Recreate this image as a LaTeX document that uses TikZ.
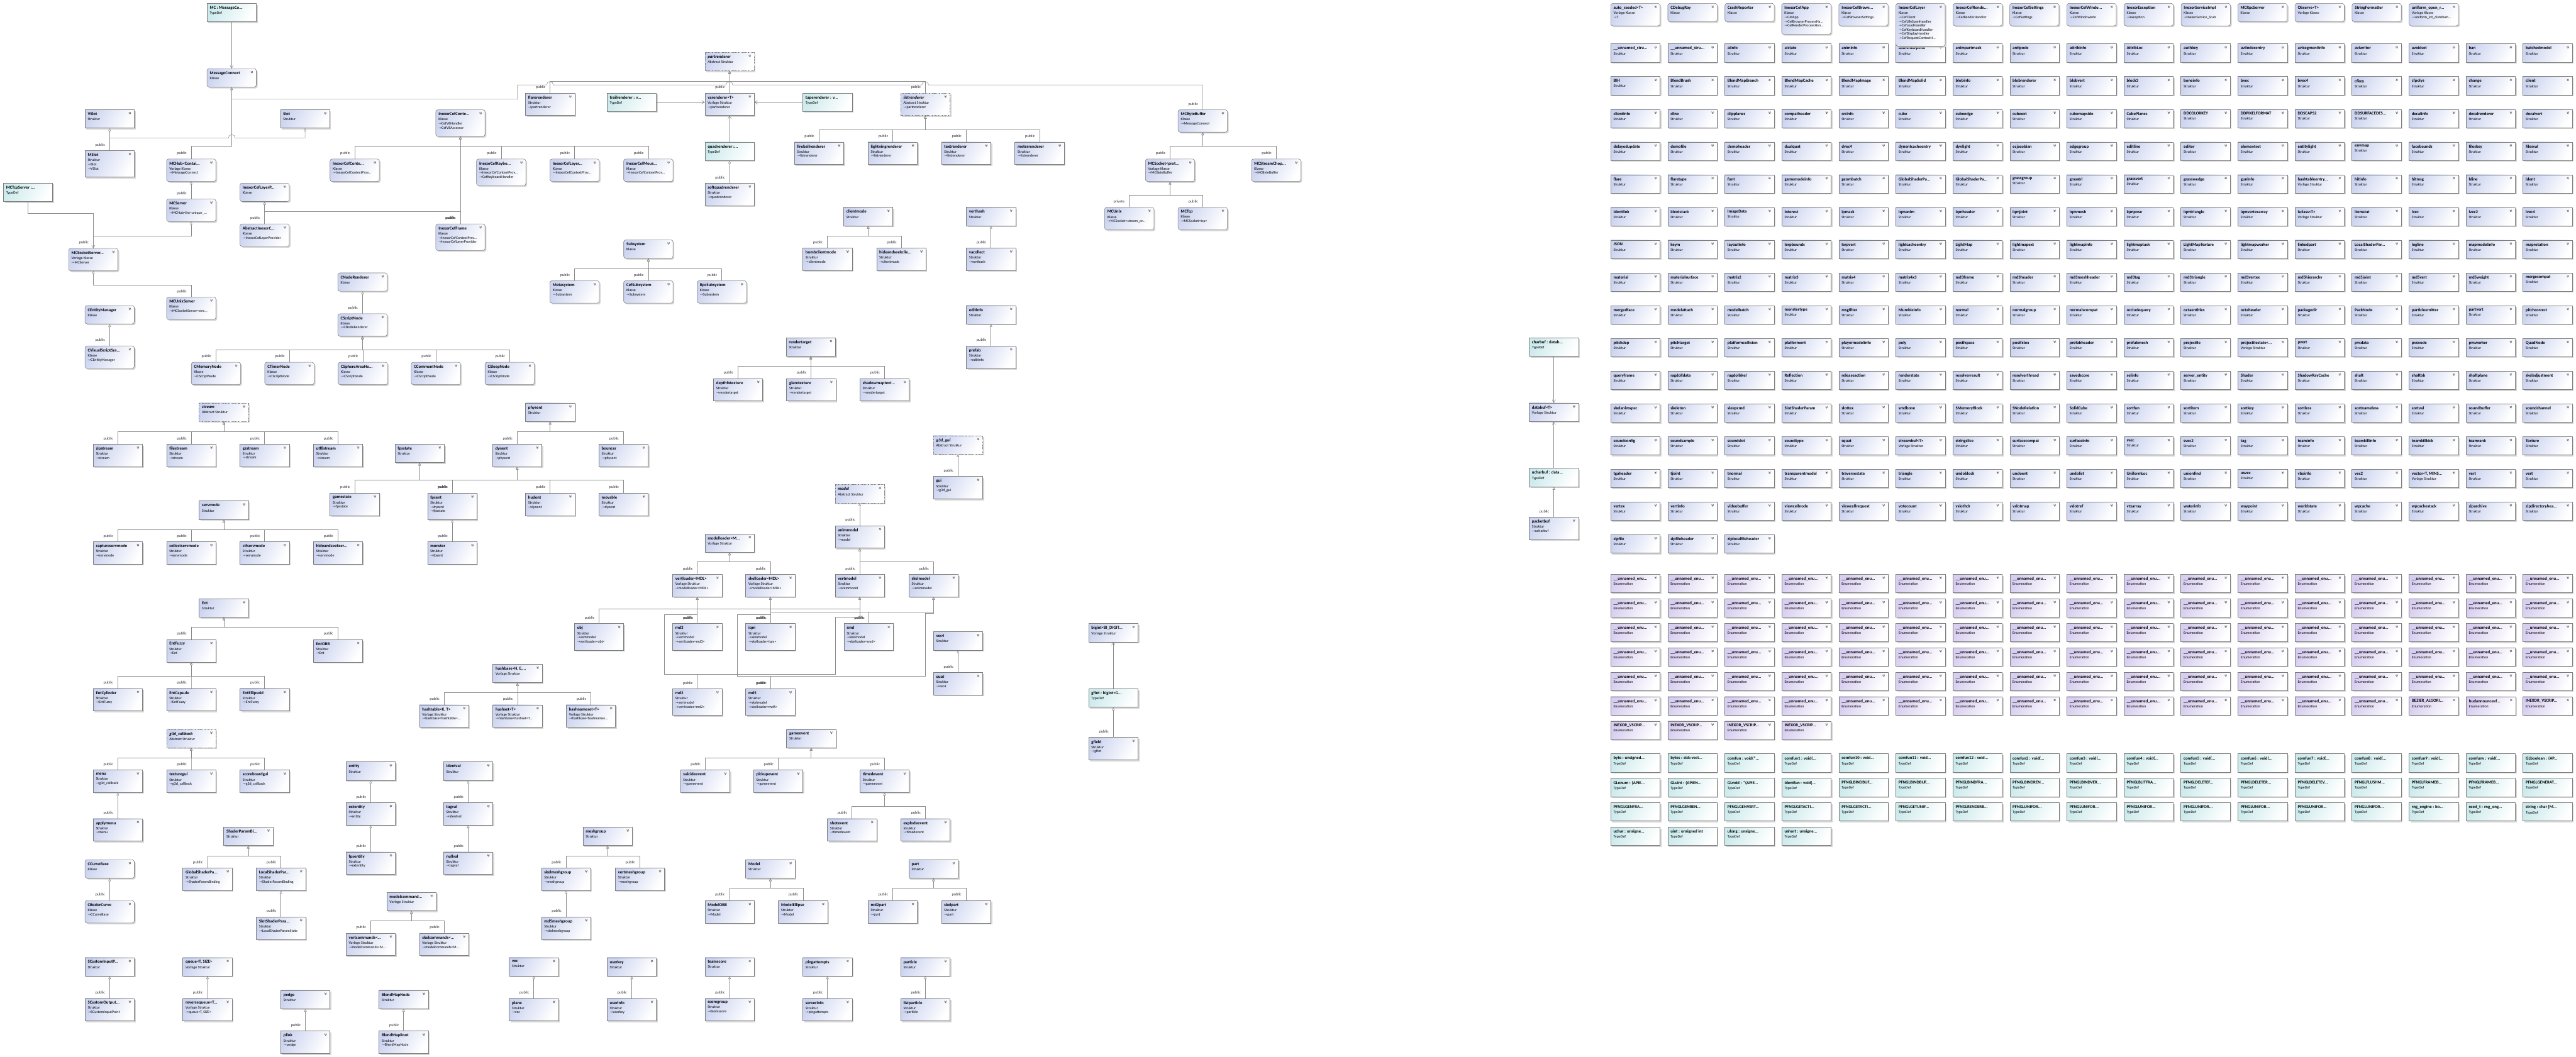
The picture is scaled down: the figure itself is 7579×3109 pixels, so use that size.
\documentclass[tikz,border=0pt]{standalone}
\usepackage{fontspec}
\setmainfont{Carlito}
\newfontfamily\symf{DejaVu Sans}
\usetikzlibrary{arrows.meta,shadows}

\definecolor{boxline}{RGB}{125,125,125}
\definecolor{strcol}{RGB}{204,212,240}
\definecolor{tdfcol}{RGB}{204,234,236}
\definecolor{enmcol}{RGB}{216,206,240}
\definecolor{linecol}{RGB}{140,140,140}
\definecolor{pubcol}{RGB}{45,40,50}
\definecolor{iconcol}{RGB}{70,70,70}

\newcommand\nmf{\fontsize{3.6}{4}\selectfont\bfseries}
\newcommand\ib[1]{\\{\symf\color{iconcol}→}#1}
\newcommand\dd{...}
% box + its text
\newcommand\bx[6][str]{%
  \node[#1] (#2) at (#3) {};
  \node[txt] (#2-t) at (#2.north west) {{\nmf #4}\\[0.8pt]#5#6};}
% template structs in the grid
\expandafter\def\csname vk5-12\endcsname{}
\expandafter\def\csname vk6-12\endcsname{}
\expandafter\def\csname vk10-11\endcsname{}
\expandafter\def\csname vk13-5\endcsname{}
\expandafter\def\csname vk14-14\endcsname{}

\tikzset{
  box/.style={draw=boxline, line width=0.3pt, anchor=north west, inner sep=0pt, outer sep=0pt,
    minimum width=14.5mm, minimum height=5.4mm,
    drop shadow={shadow xshift=0.4mm, shadow yshift=-0.4mm, fill=black!17, opacity=1}},
  chev/.style={path picture={\draw[draw=black!65, line width=0.25pt, solid, sharp corners]
      ([xshift=-1.6mm,yshift=-0.7mm]path picture bounding box.north east) -- ++(0.3mm,-0.3mm) -- ++(0.3mm,0.3mm)
      ([xshift=-1.6mm,yshift=-1.0mm]path picture bounding box.north east) -- ++(0.3mm,-0.3mm) -- ++(0.3mm,0.3mm);}},
  str/.style={box, chev, left color=strcol, right color=white, shading angle=60},
  kls/.style={str, rounded corners=0.6mm},
  abs/.style={str, dash pattern=on 0.7pt off 0.5pt},
  tdf/.style={box, left color=tdfcol, right color=white, shading angle=60},
  enm/.style={box, chev, left color=enmcol, right color=white, shading angle=60},
  h3/.style={minimum height=6.6mm},
  h4/.style={minimum height=7.8mm},
  h5/.style={minimum height=9.1mm},
  h8/.style={minimum height=12.6mm},
  txt/.style={anchor=north west, align=left, inner sep=0pt, xshift=0.75mm, yshift=-0.75mm,
    font=\fontsize{3.1}{3.5}\selectfont},
  inh/.style={draw=linecol, line width=0.3pt, -{Triangle[open, length=0.9mm, width=0.75mm]}},
  tdl/.style={draw=linecol, line width=0.3pt, -{Straight Barb[length=0.9mm, width=1mm]}},
  pub/.style={font=\fontsize{3.3}{3.6}\selectfont, text=pubcol, anchor=south east, inner sep=0pt,
    xshift=-1.3mm, yshift=1.1mm},
}

\begin{document}
\begin{tikzpicture}[x=0.1mm, y=-0.1mm]
\useasboundingbox (0,0) rectangle (7579,3109);

% ---------- class grid, right side ----------
\foreach \rowlist [count=\ri] in {%
{\_\_unnamed\_stru\dd,\_\_unnamed\_stru\dd,aiinfo,aistate,animinfo,animinterpinfo,animpartmask,antipode,attribinfo,AttribLoc,authkey,aviindexentry,avisegmentinfo,aviwriter,avoidset,ban,batchedmodel},%
{BIH,BlendBrush,BlendMapBranch,BlendMapCache,BlendMapImage,BlendMapSolid,blobinfo,blobrenderer,blobvert,block3,boneinfo,bvec,bvec4,cfkey,cfpolys,change,client},%
{clientinfo,cline,clipplanes,compatheader,crcinfo,cube,cubeedge,cubeext,cubemapside,CubePlanes,DDCOLORKEY,DDPIXELFORMAT,DDSCAPS2,DDSURFACEDES\dd,decalinfo,decalrenderer,decalvert},%
{delayedupdate,demofile,demoheader,dualquat,dvec4,dynentcacheentry,dynlight,ecjacobian,edgegroup,editline,editor,elementset,entitylight,envmap,facebounds,fileskey,filesval},%
{flare,flaretype,font,gamemodeinfo,geombatch,GlobalShaderPa\dd,GlobalShaderPa\dd,grassgroup,grasstri,grassvert,grasswedge,guninfo,hashtableentry\dd,hitinfo,hitmsg,hline,ident},%
{identlink,identstack,ImageData,interest,ipmask,iqmanim,iqmheader,iqmjoint,iqmmesh,iqmpose,iqmtriangle,iqmvertexarray,isclass<T>,itemstat,ivec,ivec2,ivec4},%
{JSON,keym,layoutinfo,lerpbounds,lerpvert,lightcacheentry,LightMap,lightmapext,lightmapinfo,lightmaptask,LightMapTexture,lightmapworker,linkedpart,LocalShaderPar\dd,logline,mapmodelinfo,maprotation},%
{material,materialsurface,matrix2,matrix3,matrix4,matrix4x3,md3frame,md3header,md3meshheader,md3tag,md3triangle,md3vertex,md5hierarchy,md5joint,md5vert,md5weight,mergecompat},%
{mergedface,modelattach,modelbatch,monstertype,msgfilter,MumbleInfo,normal,normalgroup,normalscompat,occludequery,octaentities,octaheader,packagedir,PackNode,particleemitter,partvert,pitchcorrect},%
{pitchdep,pitchtarget,platformcollision,platforment,playermodelinfo,poly,postfxpass,postfxtex,prefabheader,prefabmesh,projectile,projectilestate<\dd,pvert,pvsdata,pvsnode,pvsworker,QuadNode},%
{queryframe,ragdolldata,ragdollskel,Reflection,releaseaction,renderstate,resolverresult,resolverthread,savedscore,selinfo,server\_entity,Shader,ShadowRayCache,shaft,shaftbb,shaftplane,skeladjustment},%
{skelanimspec,skeleton,sleepcmd,SlotShaderParam,slottex,smdbone,SMemoryBlock,SNodeRelation,SolidCube,sortfun,sortitem,sortkey,sortless,sortnameless,sortval,soundbuffer,soundchannel},%
{soundconfig,soundsample,soundslot,soundtype,squat,streambuf<T>,stringslice,surfacecompat,surfaceinfo,svec,svec2,tag,teaminfo,teamkillinfo,teamkillkick,teamrank,Texture},%
{tgaheader,tjoint,tnormal,transparentmodel,traversestate,triangle,undoblock,undoent,undolist,UniformLoc,unionfind,usvec,vboinfo,vec2,{vector<T, MINS\dd},vert,vert},%
{vertex,vertinfo,videobuffer,viewcellnode,viewcellrequest,votecount,vslothdr,vslotmap,vslotref,vtxarray,waterinfo,waypoint,worldstate,wpcache,wpcachestack,ziparchive,zipdirectoryhea\dd},%
{zipfile,zipfileheader,ziplocalfileheader}%
}{%
  \foreach \gn [count=\ki from 0] in \rowlist {%
    \def\gk{Struktur}%
    \ifcsname vk\ri-\ki\endcsname\def\gk{Vorlage Struktur}\fi
    \bx{g\ri-\ki}{{4739+167.75*\ki},{129+96.3*(\ri-1)}}{\gn}{\gk}{}%
  }%
}

% first row: classes
\bx[kls,h3]{c0}{4739,10}{auto\_seeded<T>}{Vorlage Klasse}{\ib{T}}
\bx[kls]{c1}{4907,10}{CDebugRay}{Klasse}{}
\bx[kls]{c2}{5075,10}{CrashReporter}{Klasse}{}
\bx[kls,h5]{c3}{5242,10}{InexorCefApp}{Klasse}{\ib{CefApp}\ib{CefBrowserProcessHa...}\ib{CefRenderProcessHan...}}
\bx[kls,h3]{c4}{5410,10}{InexorCefBrows...}{Klasse}{\ib{CefBrowserSettings}}
\bx[kls,h8]{c5}{5578,10}{InexorCefLayer}{Klasse}{\ib{CefClient}\ib{CefLifeSpanHandler}\ib{CefLoadHandler}\ib{CefKeyboardHandler}\ib{CefDisplayHandler}\ib{CefRequestContextH...}}
\bx[kls,h3]{c6}{5746,10}{InexorCefRende...}{Klasse}{\ib{CefRenderHandler}}
\bx[kls,h3]{c7}{5913,10}{InexorCefSettings}{Klasse}{\ib{CefSettings}}
\bx[kls,h3]{c8}{6081,10}{InexorCefWindo...}{Klasse}{\ib{CefWindowInfo}}
\bx[kls,h3]{c9}{6249,10}{InexorException}{Klasse}{\ib{exception}}
\bx[kls,h3]{c10}{6417,10}{InexorServiceImpl}{Klasse}{\ib{InexorService\_Stub}}
\bx[kls]{c11}{6584,10}{MCRpcServer}{Klasse}{}
\bx[kls]{c12}{6752,10}{Observe<T>}{Vorlage Klasse}{}
\bx[kls]{c13}{6920,10}{StringFormatter}{Klasse}{}
\bx[kls,h3]{c14}{7088,10}{uniform\_open\_r...}{Vorlage Klasse}{\ib{uniform\_int\_distributi...}}

% enumerations
\foreach \ri in {0,...,4}{\foreach \ki in {0,...,16}{%
  \bx[enm]{e\ri-\ki}{{4739+167.75*\ki},{1690+72*\ri}}{\_\_unnamed\_enu\dd}{Enumeration}{}}}
\foreach \ki in {0,...,13}{%
  \bx[enm]{e5-\ki}{{4739+167.75*\ki},2050}{\_\_unnamed\_enu\dd}{Enumeration}{}}
\bx[enm]{e5-14}{7088,2050}{BEZIER\_ALGORI...}{Enumeration}{}
\bx[enm]{e5-15}{7256,2050}{hudannounceef...}{Enumeration}{}
\bx[enm]{e5-16}{7423,2050}{INEXOR\_VSCRIP...}{Enumeration}{}
\foreach \ki in {0,...,3}{%
  \bx[enm]{e6-\ki}{{4739+167.75*\ki},2122}{INEXOR\_VSCRIP\dd}{Enumeration}{}}

% typedefs
\foreach \rowlist [count=\ri from 0] in {%
{byte : unsigned\dd,bytes : std::vect\dd,comfun : void(*\dd,comfun1 : void(\dd,comfun10 : void\dd,comfun11 : void\dd,comfun12 : void\dd,comfun2 : void(\dd,comfun3 : void(\dd,comfun4 : void(\dd,comfun5 : void(\dd,comfun6 : void(\dd,comfun7 : void(\dd,comfun8 : void(\dd,comfun9 : void(\dd,comfunv : void(\dd,GLboolean : (AP\dd},%
{GLenum : (APIE\dd,GLuint : (APIEN\dd,GLvoid : *(APIE\dd,identfun : void(\dd,PFNGLBINDBUF\dd,PFNGLBINDBUF\dd,PFNGLBINDFRA\dd,PFNGLBINDREN\dd,PFNGLBINDVER\dd,PFNGLBLITFRA\dd,PFNGLDELETEF\dd,PFNGLDELETER\dd,PFNGLDELETEV\dd,PFNGLFLUSHM\dd,PFNGLFRAMEB\dd,PFNGLFRAMEB\dd,PFNGLGENERAT\dd},%
{PFNGLGENFRA\dd,PFNGLGENREN\dd,PFNGLGENVERT\dd,PFNGLGETACTI\dd,PFNGLGETACTI\dd,PFNGLGETUNIF\dd,PFNGLRENDERB\dd,PFNGLUNIFOR\dd,PFNGLUNIFOR\dd,PFNGLUNIFOR\dd,PFNGLUNIFOR\dd,PFNGLUNIFOR\dd,PFNGLUNIFOR\dd,PFNGLUNIFOR\dd,rng\_engine : bo\dd,seed\_t : rng\_eng\dd,string : char [M\dd},%
{uchar : unsigne\dd,uint : unsigned int,ulong : unsigne\dd,ushort : unsigne\dd}%
}{%
  \foreach \gn [count=\ki from 0] in \rowlist {%
    \bx[tdf]{t\ri-\ki}{{4739+167.75*\ki},{2218+72*\ri}}{\gn}{TypeDef}{}}%
}

% databuf column
\bx[tdf]{charbuf}{4499,994}{charbuf : datab...}{TypeDef}{}
\bx{databuf}{4499,1186}{databuf<T>}{Vorlage Struktur}{}
\bx[tdf]{ucharbuf}{4499,1378}{ucharbuf : data...}{TypeDef}{}
\bx[str,h3]{packetbuf}{4499,1522}{packetbuf}{Struktur}{\ib{ucharbuf}}

% ---------- hierarchies, left side ----------
\bx[tdf]{mc}{609,10}{MC : MessageCo...}{TypeDef}{}
\bx[kls]{msgconn}{609,202}{MessageConnect}{Klasse}{}
\bx[str,h3]{flarer}{1546,274}{flarerenderer}{Struktur}{\ib{partrenderer}}
\bx[tdf]{trailr}{1786,274}{trailrenderer : v...}{TypeDef}{}
\bx{vslot}{250,323}{VSlot}{Struktur}{}
\bx{slot}{825,323}{Slot}{Struktur}{}
\bx[kls,h4]{cefctx}{1282,323}{InexorCefConte...}{Klasse}{\ib{CefV8Handler}\ib{CefV8Accessor}}
\bx[str,h4]{mslot}{250,443}{MSlot}{Struktur}{\ib{Slot}\ib{VSlot}}
\bx[kls,h3]{mchub}{490,468}{MCHub<Contai...}{Vorlage Klasse}{\ib{MessageConnect}}
\bx[kls,h3]{cefctxp}{971,468}{InexorCefConte...}{Klasse}{\ib{InexorCefContextProv...}}
\bx[kls,h4]{cefkey}{1402,468}{InexorCefKeybo...}{Klasse}{\ib{InexorCefContextProv...}\ib{CefKeyboardHandler}}
\bx[kls,h3]{ceflay}{1618,468}{InexorCefLayer...}{Klasse}{\ib{InexorCefContextProv...}}
\bx[kls,h3]{cefmou}{1835,468}{InexorCefMous...}{Klasse}{\ib{InexorCefContextProv...}}
\bx[tdf]{mctcps}{10,539}{MCTcpServer :...}{TypeDef}{}
\bx[kls]{ceflayp}{706,539}{InexorCefLayerP...}{Klasse}{}
\bx[kls,h3]{mcserver}{490,586}{MCServer}{Klasse}{\ib{MCHub<list<unique\_...}}
\bx[kls,h3]{absinex}{706,659}{AbstractInexorC...}{Klasse}{\ib{InexorCefLayerProvider}}
\bx[kls,h4]{ceffrm}{1282,659}{InexorCefFrame}{Klasse}{\ib{InexorCefContextProv...}\ib{InexorCefLayerProvider}}
\bx[kls]{subsys}{1835,706}{Subsystem}{Klasse}{}
\bx[kls,h3]{mcsock}{202,731}{MCSocketServer...}{Vorlage Klasse}{\ib{MCServer}}
\bx[kls]{cnoderen}{994,803}{CNodeRenderer}{Klasse}{}
\bx[kls,h3]{metasys}{1618,826}{Metasystem}{Klasse}{\ib{Subsystem}}
\bx[kls,h3]{cefsub}{1835,826}{CefSubsystem}{Klasse}{\ib{Subsystem}}
\bx[kls,h3]{rpcsub}{2051,826}{RpcSubsystem}{Klasse}{\ib{Subsystem}}
\bx[kls,h3]{mcunixs}{490,874}{MCUnixServer}{Klasse}{\ib{MCSocketServer<stre...}}
\bx[kls]{centman}{250,899}{CEntityManager}{Klasse}{}
\bx[kls,h3]{cscript}{994,923}{CScriptNode}{Klasse}{\ib{CNodeRenderer}}
\bx[kls,h3]{cvisual}{250,1018}{CVisualScriptSys...}{Klasse}{\ib{CEntityManager}}
\bx[kls,h3]{cmemory}{563,1066}{CMemoryNode}{Klasse}{\ib{CScriptNode}}
\bx[kls,h3]{ctimer}{779,1066}{CTimerNode}{Klasse}{\ib{CScriptNode}}
\bx[kls,h3]{csphere}{995,1066}{CSphereAreaNo...}{Klasse}{\ib{CScriptNode}}
\bx[kls,h3]{ccomment}{1210,1066}{CCommentNode}{Klasse}{\ib{CScriptNode}}
\bx[kls,h3]{csleep}{1427,1066}{CSleepNode}{Klasse}{\ib{CScriptNode}}

% renderers
\bx[abs]{partr}{2074,154}{\itshape partrenderer}{Abstract Struktur}{}
\bx[str,h3]{varr}{2074,274}{varenderer<T>}{Vorlage Struktur}{\ib{partrenderer}}
\bx[tdf]{taper}{2362,274}{taperenderer : v...}{TypeDef}{}
\bx[abs,h3]{listr}{2650,274}{\itshape listrenderer}{Abstract Struktur}{\ib{partrenderer}}
\bx[tdf]{quadr}{2074,418}{quadrenderer :...}{TypeDef}{}
\bx[str,h3]{softq}{2074,539}{softquadrenderer}{Struktur}{\ib{quadrenderer}}
\bx[str,h3]{fireb}{2337,418}{fireballrenderer}{Struktur}{\ib{listrenderer}}
\bx[str,h3]{lightn}{2554,418}{lightningrenderer}{Struktur}{\ib{listrenderer}}
\bx[str,h3]{textr}{2770,418}{textrenderer}{Struktur}{\ib{listrenderer}}
\bx[str,h3]{meterr}{2986,418}{meterrenderer}{Struktur}{\ib{listrenderer}}

% byte buffers
\bx[kls,h3]{mcbyte}{3466,323}{MCByteBuffer}{Klasse}{\ib{MessageConnect}}
\bx[kls,h3]{mcsocket}{3370,468}{MCSocket<prot...}{Vorlage Klasse}{\ib{MCByteBuffer}}
\bx[kls,h3]{mcstream}{3682,468}{MCStreamChop...}{Klasse}{\ib{MCByteBuffer}}
\bx[kls,h3]{mcunix}{3250,610}{MCUnix}{Klasse}{\ib{MCSocket<stream\_pr...}}
\bx[kls,h3]{mctcp}{3466,610}{MCTcp}{Klasse}{\ib{MCSocket<tcp>}}

% small trees
\bx{clientm}{2482,610}{clientmode}{Struktur}{}
\bx[str,h3]{bombcm}{2362,730}{bombclientmode}{Struktur}{\ib{clientmode}}
\bx[str,h3]{hidecm}{2579,730}{hideandseekclie...}{Struktur}{\ib{clientmode}}
\bx{verthash}{2843,610}{verthash}{Struktur}{}
\bx[str,h3]{vacollect}{2843,730}{vacollect}{Struktur}{\ib{verthash}}
\bx{editinfo}{2843,899}{editinfo}{Struktur}{}
\bx[str,h3]{prefab}{2843,1018}{prefab}{Struktur}{\ib{editinfo}}
\bx{rendt}{2313,994}{rendertarget}{Struktur}{}
\bx[str,h3]{depthfx}{2099,1114}{depthfxtexture}{Struktur}{\ib{rendertarget}}
\bx[str,h3]{glaret}{2314,1114}{glaretexture}{Struktur}{\ib{rendertarget}}
\bx[str,h3]{shadowm}{2530,1114}{shadowmaptext...}{Struktur}{\ib{rendertarget}}

% streams and entities
\bx[abs]{stream}{586,1186}{\itshape stream}{Abstract Struktur}{}
\bx[str,h3]{zips}{274,1307}{zipstream}{Struktur}{\ib{stream}}
\bx[str,h3]{files}{490,1307}{filestream}{Struktur}{\ib{stream}}
\bx[str,h3]{gzs}{706,1307}{gzstream}{Struktur}{\ib{stream}}
\bx[str,h3]{utf8s}{922,1307}{utf8stream}{Struktur}{\ib{stream}}
\bx{fpsstate}{1162,1307}{fpsstate}{Struktur}{}
\bx{physent}{1546,1186}{physent}{Struktur}{}
\bx[str,h3]{dynent}{1449,1307}{dynent}{Struktur}{\ib{physent}}
\bx[str,h3]{bouncer}{1762,1307}{bouncer}{Struktur}{\ib{physent}}
\bx[str,h3]{gamest}{971,1451}{gamestate}{Struktur}{\ib{fpsstate}}
\bx[str,h4]{fpsent}{1258,1451}{fpsent}{Struktur}{\ib{dynent}\ib{fpsstate}}
\bx[str,h3]{hudent}{1546,1451}{hudent}{Struktur}{\ib{dynent}}
\bx[str,h3]{movable}{1762,1451}{movable}{Struktur}{\ib{dynent}}
\bx[str,h3]{monster}{1258,1594}{monster}{Struktur}{\ib{fpsent}}
\bx{servmode}{586,1474}{servmode}{Struktur}{}
\bx[str,h3]{capsm}{274,1594}{captureservmode}{Struktur}{\ib{servmode}}
\bx[str,h3]{collsm}{490,1594}{collectservmode}{Struktur}{\ib{servmode}}
\bx[str,h3]{ctfsm}{706,1594}{ctfservmode}{Struktur}{\ib{servmode}}
\bx[str,h3]{hidesm}{922,1594}{hideandseekser...}{Struktur}{\ib{servmode}}
\bx{ent}{586,1762}{Ent}{Struktur}{}
\bx[str,h3]{entfuzzy}{490,1882}{EntFuzzy}{Struktur}{\ib{Ent}}
\bx[str,h3]{entobb}{922,1882}{EntOBB}{Struktur}{\ib{Ent}}
\bx[str,h3]{entcyl}{274,2026}{EntCylinder}{Struktur}{\ib{EntFuzzy}}
\bx[str,h3]{entcap}{490,2026}{EntCapsule}{Struktur}{\ib{EntFuzzy}}
\bx[str,h3]{entell}{706,2026}{EntEllipsoid}{Struktur}{\ib{EntFuzzy}}
\bx[str,h4]{obj}{1690,1835}{obj}{Struktur}{\ib{vertmodel}\ib{vertloader<obj>}}
\bx{hashbase}{1450,1955}{hashbase<H, E,...}{Vorlage Struktur}{}
\bx[str,h3]{hasht}{1234,2074}{hashtable<K, T>}{Vorlage Struktur}{\ib{hashbase<hashtable<...}}
\bx[str,h3]{hashs}{1450,2074}{hashset<T>}{Vorlage Struktur}{\ib{hashbase<hashset<T...}}
\bx[str,h3]{hashn}{1666,2074}{hashnameset<T>}{Vorlage Struktur}{\ib{hashbase<hashnames...}}

% models
\bx[abs]{g3dgui}{2746,1282}{\itshape g3d\_gui}{Abstract Struktur}{}
\bx[str,h3]{gui}{2746,1402}{gui}{Struktur}{\ib{g3d\_gui}}
\bx[abs]{model}{2457,1426}{\itshape model}{Abstract Struktur}{}
\bx[str,h3]{animm}{2457,1547}{animmodel}{Struktur}{\ib{model}}
\bx{mloader}{2074,1571}{modelloader<M...}{Vorlage Struktur}{}
\bx[str,h3]{vloader}{1979,1690}{vertloader<MDL>}{Vorlage Struktur}{\ib{modelloader<MDL>}}
\bx[str,h3]{sloader}{2194,1690}{skelloader<MDL>}{Vorlage Struktur}{\ib{modelloader<MDL>}}
\bx[str,h3]{vmodel}{2457,1690}{vertmodel}{Struktur}{\ib{animmodel}}
\bx[str,h3]{smodel}{2674,1690}{skelmodel}{Struktur}{\ib{animmodel}}
\bx[str,h4]{md3}{1979,1835}{md3}{Struktur}{\ib{vertmodel}\ib{vertloader<md3>}}
\bx[str,h4]{iqm}{2194,1835}{iqm}{Struktur}{\ib{skelmodel}\ib{skelloader<iqm>}}
\bx[str,h4]{smd}{2483,1835}{smd}{Struktur}{\ib{skelmodel}\ib{skelloader<smd>}}
\bx{vec4}{2746,1859}{vec4}{Struktur}{}
\bx[str,h3]{quat}{2746,1979}{quat}{Struktur}{\ib{vec4}}
\bx[str,h4]{md2}{1979,2027}{md2}{Struktur}{\ib{vertmodel}\ib{vertloader<md2>}}
\bx[str,h4]{md5}{2194,2027}{md5}{Struktur}{\ib{skelmodel}\ib{skelloader<md5>}}
\bx{bigint}{3203,1835}{bigint<BI\_DIGIT...}{Vorlage Struktur}{}
\bx[tdf]{gfint}{3203,2027}{gfint : bigint<G...}{TypeDef}{}
\bx[str,h3]{gfield}{3203,2170}{gfield}{Struktur}{\ib{gfint}}

% bottom left
\bx[abs]{g3dcb}{490,2146}{\itshape g3d\_callback}{Abstract Struktur}{}
\bx[str,h3]{menu}{274,2266}{menu}{Struktur}{\ib{g3d\_callback}}
\bx[str,h3]{texgui}{490,2266}{texturegui}{Struktur}{\ib{g3d\_callback}}
\bx[str,h3]{scoreg}{706,2266}{scoreboardgui}{Struktur}{\ib{g3d\_callback}}
\bx[str,h3]{applym}{274,2409}{applymenu}{Struktur}{\ib{menu}}
\bx{entity}{1018,2242}{entity}{Struktur}{}
\bx[str,h3]{extent}{1018,2362}{extentity}{Struktur}{\ib{entity}}
\bx[str,h3]{fpsentity}{1018,2507}{fpsentity}{Struktur}{\ib{extentity}}
\bx{identval}{1305,2242}{identval}{Struktur}{}
\bx[str,h3]{tagval}{1305,2362}{tagval}{Struktur}{\ib{identval}}
\bx[str,h3]{nullval}{1305,2507}{nullval}{Struktur}{\ib{tagval}}
\bx{meshg}{1715,2434}{meshgroup}{Struktur}{}
\bx[str,h3]{skelmg}{1593,2554}{skelmeshgroup}{Struktur}{\ib{meshgroup}}
\bx[str,h3]{vertmg}{1810,2554}{vertmeshgroup}{Struktur}{\ib{meshgroup}}
\bx[str,h3]{md5mg}{1593,2698}{md5meshgroup}{Struktur}{\ib{skelmeshgroup}}
\bx{shpb}{658,2434}{ShaderParamBi...}{Struktur}{}
\bx[str,h3]{globsp}{538,2554}{GlobalShaderPa...}{Struktur}{\ib{ShaderParamBinding}}
\bx[str,h3]{locsp}{754,2554}{LocalShaderPar...}{Struktur}{\ib{ShaderParamBinding}}
\bx[str,h3]{slotsp}{754,2698}{SlotShaderPara...}{Struktur}{\ib{LocalShaderParamState}}
\bx[kls]{ccurve}{250,2530}{CCurveBase}{Klasse}{}
\bx[kls,h3]{cbezier}{250,2650}{CBezierCurve}{Klasse}{\ib{CCurveBase}}
\bx{modcmd}{1138,2626}{modelcommand...}{Vorlage Struktur}{}
\bx[str,h3]{vertcmd}{1018,2746}{vertcommands<...}{Vorlage Struktur}{\ib{modelcommands<M...}}
\bx[str,h3]{skelcmd}{1234,2746}{skelcommands<...}{Vorlage Struktur}{\ib{modelcommands<M...}}
\bx{scin}{250,2818}{SCustomInputP...}{Struktur}{}
\bx[str,h3]{scout}{250,2938}{SCustomOutput...}{Struktur}{\ib{SCustomInputPoint}}
\bx{queue}{538,2818}{queue<T, SIZE>}{Vorlage Struktur}{}
\bx[str,h3]{revq}{538,2938}{reversequeue<T...}{Vorlage Struktur}{\ib{queue<T, SIZE>}}
\bx{pedge}{826,2914}{pedge}{Struktur}{}
\bx[str,h3]{plink}{826,3034}{plink}{Struktur}{\ib{pedge}}
\bx{bmnode}{1115,2914}{BlendMapNode}{Struktur}{}
\bx[str,h3]{bmroot}{1115,3034}{BlendMapRoot}{Struktur}{\ib{BlendMapNode}}
\bx{vec}{1498,2818}{vec}{Struktur}{}
\bx[str,h3]{plane}{1498,2938}{plane}{Struktur}{\ib{vec}}
\bx{userkey}{1786,2818}{userkey}{Struktur}{}
\bx[str,h3]{userinfo}{1786,2938}{userinfo}{Struktur}{\ib{userkey}}
\bx{gameev}{2314,2146}{gameevent}{Struktur}{}
\bx[str,h3]{suicide}{2002,2266}{suicideevent}{Struktur}{\ib{gameevent}}
\bx[str,h3]{pickup}{2217,2266}{pickupevent}{Struktur}{\ib{gameevent}}
\bx[str,h3]{timedev}{2530,2266}{timedevent}{Struktur}{\ib{gameevent}}
\bx[str,h3]{shotev}{2434,2409}{shotevent}{Struktur}{\ib{timedevent}}
\bx[str,h3]{explev}{2650,2409}{explodeevent}{Struktur}{\ib{timedevent}}
\bx{Model}{2194,2530}{Model}{Struktur}{}
\bx[str,h3]{modobb}{2074,2650}{ModelOBB}{Struktur}{\ib{Model}}
\bx[str,h3]{modell}{2290,2650}{ModelEllipse}{Struktur}{\ib{Model}}
\bx{part}{2674,2530}{part}{Struktur}{}
\bx[str,h3]{md2part}{2554,2650}{md2part}{Struktur}{\ib{part}}
\bx[str,h3]{skelpart}{2770,2650}{skelpart}{Struktur}{\ib{part}}
\bx{teamscore}{2074,2818}{teamscore}{Struktur}{}
\bx[str,h3]{scoregrp}{2074,2938}{scoregroup}{Struktur}{\ib{teamscore}}
\bx{pingatt}{2362,2818}{pingattempts}{Struktur}{}
\bx[str,h3]{serverinfo}{2362,2938}{serverinfo}{Struktur}{\ib{pingattempts}}
\bx{particle}{2650,2818}{particle}{Struktur}{}
\bx[str,h3]{listpart}{2650,2938}{listparticle}{Struktur}{\ib{particle}}

% ---------- connectors ----------
\draw[tdl] (mc) -- (msgconn);
% long line with hops over the renderer lines
\draw[inh] (mcbyte.north) node[pub]{public} -- (mcbyte.north |- 0,250) -- (2732,250)
  arc[start angle=0, end angle=180, radius=1mm] -- (2156,250)
  arc[start angle=0, end angle=180, radius=1mm] -- (1628,250)
  arc[start angle=0, end angle=180, radius=1mm] -- (1522,250) -- (1522,292)
  -- (msgconn.south |- 0,292) -- (msgconn.south);
\draw[inh] (mchub.north) node[pub]{public} |- (msgconn.south |- 0,430) -- (msgconn.south);
\draw[inh] (mslot.north) node[pub]{public} -- (vslot.south);
\draw[inh] (mslot.north) -- (mslot.north |- 0,406) -- (672,406)
  arc[start angle=180, end angle=0, radius=1mm] -- (slot.south |- 0,406) -- (slot.south);
\draw[inh] (mcserver.north) node[pub]{public} -- (mchub.south);
\draw[inh] (mcsock.north) node[pub]{public} |- (mcserver.south |- 0,694) -- (mcserver.south);
\draw[tdl] (mctcps.south) |- (mcsock.north |- 0,627) -- (mcsock.north);
\draw[inh] (mcunixs.north) node[pub]{public} |- (mcsock.south |- 0,838) -- (mcsock.south);
\foreach \c in {cefctxp,cefkey,ceflay,cefmou}
  \draw[inh] (\c.north) node[pub]{public} |- (cefctx.south |- 0,430) -- (cefctx.south);
\draw[inh] (ceffrm.north) node[pub]{public} -- (cefctx.south);
\draw[inh] (ceffrm.north) node[pub,xshift=-0.2mm]{public} |- (ceflayp.south |- 0,622) -- (ceflayp.south);
\draw[inh] (absinex.north) node[pub]{public} -- (ceflayp.south);
\foreach \c in {metasys,cefsub,rpcsub}
  \draw[inh] (\c.north) node[pub]{public} |- (subsys.south |- 0,790) -- (subsys.south);
\draw[inh] (cscript.north) node[pub]{public} -- (cnoderen.south);
\foreach \c in {cmemory,ctimer,csphere,ccomment,csleep}
  \draw[inh] (\c.north) node[pub]{public} |- (cscript.south |- 0,1029) -- (cscript.south);
\draw[inh] (cvisual.north) node[pub]{public} -- (centman.south);

\foreach \c in {flarer,varr,listr}
  \draw[inh] (\c.north) node[pub]{public} |- (partr.south |- 0,239) -- (partr.south);
\draw[tdl] (trailr.east) -- (trailr.east -| varr.west);
\draw[tdl] (taper.west) -- (taper.west -| varr.east);
\draw[tdl] (quadr.north) -- (varr.south);
\draw[inh] (softq.north) node[pub]{public} -- (quadr.south);
\foreach \c in {fireb,lightn,textr,meterr}
  \draw[inh] (\c.north) node[pub]{public} |- (listr.south |- 0,381) -- (listr.south);

\foreach \c in {mcsocket,mcstream}
  \draw[inh] (\c.north) node[pub]{public} |- (mcbyte.south |- 0,430) -- (mcbyte.south);
\draw[inh] (mcunix.north) node[pub]{private} |- (mcsocket.south |- 0,574) -- (mcsocket.south);
\draw[inh] (mctcp.north) node[pub]{public} |- (mcsocket.south |- 0,574) -- (mcsocket.south);

\foreach \c in {bombcm,hidecm}
  \draw[inh] (\c.north) node[pub]{public} |- (clientm.south |- 0,694) -- (clientm.south);
\draw[inh] (vacollect.north) node[pub]{public} -- (verthash.south);
\draw[inh] (prefab.north) node[pub]{public} -- (editinfo.south);
\foreach \c in {depthfx,glaret,shadowm}
  \draw[inh] (\c.north) node[pub]{public} |- (rendt.south |- 0,1078) -- (rendt.south);

\foreach \c in {zips,files,gzs,utf8s}
  \draw[inh] (\c.north) node[pub]{public} |- (stream.south |- 0,1270) -- (stream.south);
\foreach \c in {dynent,bouncer}
  \draw[inh] (\c.north) node[pub]{public} |- (physent.south |- 0,1270) -- (physent.south);
\foreach \c in {gamest,fpsent}
  \draw[inh] (\c.north) node[pub]{public} |- (fpsstate.south |- 0,1413) -- (fpsstate.south);
\foreach \c in {fpsent,hudent,movable}
  \draw[inh] (\c.north) node[pub]{public} |- (dynent.south |- 0,1413) -- (dynent.south);
\draw[inh] (monster.north) node[pub]{public} -- (fpsent.south);
\foreach \c in {capsm,collsm,ctfsm,hidesm}
  \draw[inh] (\c.north) node[pub]{public} |- (servmode.south |- 0,1558) -- (servmode.south);
\foreach \c in {entfuzzy,entobb}
  \draw[inh] (\c.north) node[pub]{public} |- (ent.south |- 0,1846) -- (ent.south);
\foreach \c in {entcyl,entcap,entell}
  \draw[inh] (\c.north) node[pub]{public} |- (entfuzzy.south |- 0,1990) -- (entfuzzy.south);
\foreach \c in {hasht,hashs,hashn}
  \draw[inh] (\c.north) node[pub]{public} |- (hashbase.south |- 0,2038) -- (hashbase.south);

\draw[inh] (gui.north) node[pub]{public} -- (g3dgui.south);
\draw[inh] (animm.north) node[pub]{public} -- (model.south);
\foreach \c in {vmodel,smodel}
  \draw[inh] (\c.north) node[pub]{public} |- (animm.south |- 0,1653) -- (animm.south);
\foreach \c in {vloader,sloader}
  \draw[inh] (\c.north) node[pub]{public} |- (mloader.south |- 0,1653) -- (mloader.south);
\draw[inh] (obj.north) node[pub]{public} |- (vmodel.south |- 0,1792) -- (vmodel.south);
\draw[inh] (obj.north) |- (vloader.south |- 0,1792) -- (vloader.south);
\draw[inh] (md3.north) node[pub]{public} -- (vloader.south);
\draw[inh] (md3.north) node[pub,xshift=0.2mm]{public} |- (vmodel.south |- 0,1792) -- (vmodel.south);
\draw[inh] (iqm.north) node[pub]{public} -- (sloader.south);
\draw[inh] (iqm.north) node[pub,xshift=0.2mm]{public} |- (smodel.south |- 0,1800) -- (smodel.south);
\draw[inh] (smd.north) node[pub]{public} |- (smodel.south |- 0,1800) -- (smodel.south);
\draw[inh] (smd.north) node[pub,xshift=0.2mm]{public} |- (sloader.south |- 0,1800) -- (sloader.south);
\draw[inh] (md2.north) node[pub]{public} -- (md2.north |- 0,1984) -- (1955,1984) -- (1955,1809) -- (vloader.south |- 0,1809) -- (vloader.south);
\draw[inh] (md2.north) -- (md2.north |- 0,1984) -- (2457,1984) -- (2457,1815) -- (vmodel.south |- 0,1815) -- (vmodel.south);
\draw[inh] (md5.north) node[pub]{public} -- (md5.north |- 0,1990) -- (2170,1990) -- (2170,1809) -- (sloader.south |- 0,1809) -- (sloader.south);
\draw[inh] (md5.north) node[pub,xshift=0.2mm]{public} -- (md5.north |- 0,1990) -- (2722,1990) -- (2722,1805) -- (smodel.south |- 0,1805) -- (smodel.south);
\draw[inh] (quat.north) node[pub]{public} -- (vec4.south);
\draw[tdl] (gfint.north) -- (bigint.south);
\draw[inh] (gfield.north) node[pub]{public} -- (gfint.south);
\draw[tdl] (charbuf.south) -- (databuf.north);
\draw[tdl] (ucharbuf.north) -- (databuf.south);
\draw[inh] (packetbuf.north) node[pub]{public} -- (ucharbuf.south);

\foreach \c in {menu,texgui,scoreg}
  \draw[inh] (\c.north) node[pub]{public} |- (g3dcb.south |- 0,2230) -- (g3dcb.south);
\draw[inh] (applym.north) node[pub]{public} -- (menu.south);
\draw[inh] (extent.north) node[pub]{public} -- (entity.south);
\draw[inh] (fpsentity.north) node[pub]{public} -- (extent.south);
\draw[inh] (tagval.north) node[pub]{public} -- (identval.south);
\draw[inh] (nullval.north) node[pub]{public} -- (tagval.south);
\foreach \c in {skelmg,vertmg}
  \draw[inh] (\c.north) node[pub]{public} |- (meshg.south |- 0,2518) -- (meshg.south);
\draw[inh] (md5mg.north) node[pub]{public} -- (skelmg.south);
\foreach \c in {globsp,locsp}
  \draw[inh] (\c.north) node[pub]{public} |- (shpb.south |- 0,2518) -- (shpb.south);
\draw[inh] (slotsp.north) node[pub]{public} -- (locsp.south);
\draw[inh] (cbezier.north) node[pub]{public} -- (ccurve.south);
\foreach \c in {vertcmd,skelcmd}
  \draw[inh] (\c.north) node[pub]{public} |- (modcmd.south |- 0,2710) -- (modcmd.south);
\draw[inh] (scout.north) node[pub]{public} -- (scin.south);
\draw[inh] (revq.north) node[pub]{public} -- (queue.south);
\draw[inh] (plink.north) node[pub]{public} -- (pedge.south);
\draw[inh] (bmroot.north) node[pub]{public} -- (bmnode.south);
\draw[inh] (plane.north) node[pub]{public} -- (vec.south);
\draw[inh] (userinfo.north) node[pub]{public} -- (userkey.south);
\foreach \c in {suicide,pickup,timedev}
  \draw[inh] (\c.north) node[pub]{public} |- (gameev.south |- 0,2230) -- (gameev.south);
\foreach \c in {shotev,explev}
  \draw[inh] (\c.north) node[pub]{public} |- (timedev.south |- 0,2373) -- (timedev.south);
\foreach \c in {modobb,modell}
  \draw[inh] (\c.north) node[pub]{public} |- (Model.south |- 0,2614) -- (Model.south);
\foreach \c in {md2part,skelpart}
  \draw[inh] (\c.north) node[pub]{public} |- (part.south |- 0,2614) -- (part.south);
\draw[inh] (scoregrp.north) node[pub]{public} -- (teamscore.south);
\draw[inh] (serverinfo.north) node[pub]{public} -- (pingatt.south);
\draw[inh] (listpart.north) node[pub]{public} -- (particle.south);
\end{tikzpicture}
\end{document}
